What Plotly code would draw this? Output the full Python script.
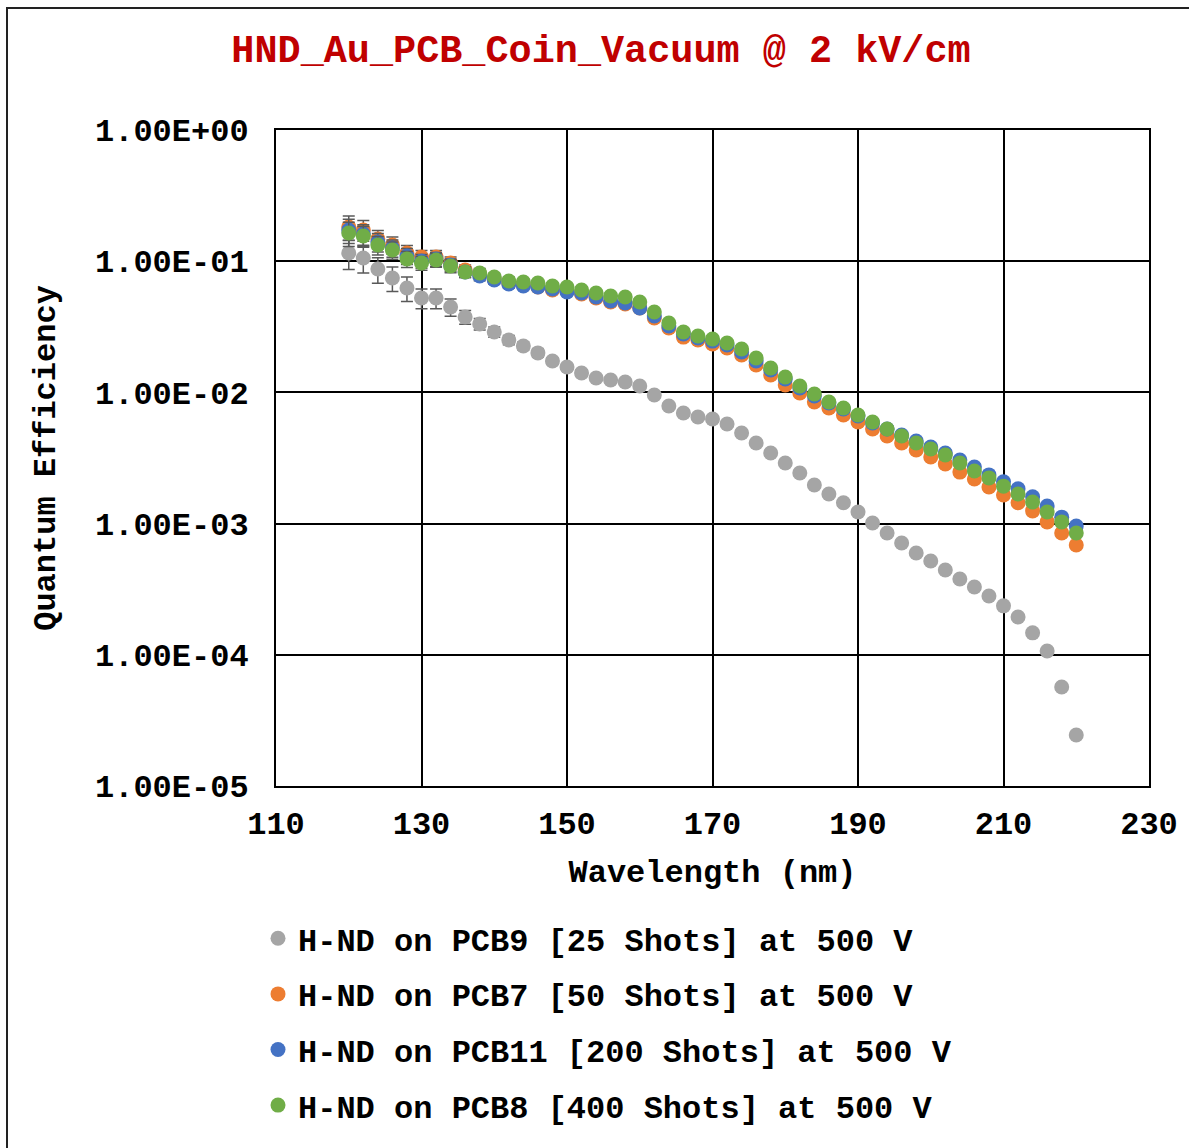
import plotly.graph_objects as go

wavelength = [120, 122, 124, 126, 128, 130, 132, 134, 136, 138, 140, 142, 144, 146, 148, 150,
              152, 154, 156, 158, 160, 162, 164, 166, 168, 170, 172, 174, 176, 178, 180, 182,
              184, 186, 188, 190, 192, 194, 196, 198, 200, 202, 204, 206, 208, 210, 212, 214,
              216, 218, 220]

qe_pcb9 = [0.1155, 0.1057, 0.0872, 0.0745, 0.0625, 0.0524, 0.0524, 0.0448, 0.0376, 0.0332,
           0.0289, 0.0251, 0.0226, 0.0200, 0.01735, 0.0156, 0.01406, 0.01288, 0.01243, 0.0120,
           0.01119, 0.00955, 0.00787, 0.00697, 0.00649, 0.00627, 0.00574, 0.0049, 0.00411,
           0.00345, 0.0029, 0.00243, 0.00197, 0.00168, 0.00144, 0.001226, 0.00101, 0.000848,
           0.000711, 0.000597, 0.000519, 0.000443, 0.000378, 0.000329, 0.000281, 0.000236,
           0.000194, 0.000147, 0.000107, 5.68e-5, 2.45e-5]

qe_pcb7 = [0.1823, 0.1729, 0.1476, 0.1329, 0.1155, 0.1076, 0.1076, 0.0969, 0.0857, 0.0799,
           0.0731, 0.0682, 0.0658, 0.0636, 0.0603, 0.0593, 0.0562, 0.0524, 0.0489, 0.0472,
           0.0440, 0.0369, 0.0310, 0.0264, 0.0251, 0.0234, 0.0218, 0.0193, 0.0162, 0.01357,
           0.01138, 0.00989, 0.00845, 0.0076, 0.00672, 0.00595, 0.00526, 0.00465, 0.00411,
           0.00364, 0.00322, 0.00285, 0.00247, 0.00219, 0.0019, 0.00165, 0.00144, 0.00125,
           0.00103, 0.000848, 0.000687]

qe_pcb11 = [0.1729, 0.161, 0.140, 0.126, 0.1095, 0.1003, 0.1039, 0.0936, 0.0827, 0.0771,
            0.0719, 0.0670, 0.0647, 0.0636, 0.0614, 0.0582, 0.0572, 0.0533, 0.0497, 0.0480,
            0.0440, 0.0382, 0.0321, 0.0279, 0.0260, 0.0246, 0.0230, 0.0203, 0.01735, 0.01482,
            0.01265, 0.0108, 0.00939, 0.0083, 0.00747, 0.00661, 0.00585, 0.00526, 0.00473,
            0.00426, 0.00384, 0.00345, 0.00305, 0.0027, 0.00235, 0.00208, 0.00184, 0.0016,
            0.00136, 0.00112, 0.00096]

qe_pcb8 = [0.164, 0.1556, 0.1329, 0.1217, 0.1039, 0.0969, 0.1021, 0.0919, 0.0827, 0.0813,
           0.0758, 0.0707, 0.0694, 0.0682, 0.0647, 0.0636, 0.0603, 0.0572, 0.0543, 0.0533,
           0.0489, 0.0410, 0.0338, 0.0289, 0.0269, 0.0255, 0.0238, 0.0214, 0.0183, 0.01535,
           0.0131, 0.01119, 0.00972, 0.00845, 0.0076, 0.00672, 0.00595, 0.00526, 0.00465,
           0.00411, 0.0037, 0.00333, 0.0029, 0.00252, 0.00223, 0.00193, 0.00168, 0.00146,
           0.001226, 0.00103, 0.000848]

# relative uncertainties
rel_err_pcb9 = [0.25, 0.23, 0.22, 0.21, 0.21, 0.17, 0.17, 0.15, 0.12, 0.10, 0.09, 0.08, 0.07,
                0.07, 0.06, 0.06, 0.06, 0.05, 0.05, 0.05, 0.05, 0.05, 0.05, 0.05, 0.05, 0.05,
                0.05, 0.05, 0.05, 0.05, 0.05, 0.05, 0.05, 0.05, 0.05, 0.05, 0.05, 0.05, 0.05,
                0.05, 0.05, 0.05, 0.05, 0.05, 0.05, 0.05, 0.05, 0.05, 0.05, 0.05, 0.05]
rel_err_pcb = [0.21, 0.18, 0.16, 0.15, 0.14, 0.12, 0.12, 0.11, 0.09, 0.08, 0.07, 0.07, 0.06,
               0.06, 0.06, 0.06, 0.06, 0.06, 0.06, 0.06, 0.06, 0.06, 0.06, 0.06, 0.06, 0.06,
               0.06, 0.06, 0.06, 0.06, 0.06, 0.06, 0.06, 0.06, 0.06, 0.06, 0.06, 0.06, 0.06,
               0.06, 0.06, 0.06, 0.06, 0.06, 0.06, 0.06, 0.06, 0.06, 0.06, 0.06, 0.06]

series_names = ["H-ND on PCB9 [25 Shots] at 500 V",
                "H-ND on PCB7 [50 Shots] at 500 V",
                "H-ND on PCB11 [200 Shots] at 500 V",
                "H-ND on PCB8 [400 Shots] at 500 V"]
series_colors = ["#A5A5A5", "#ED7D31", "#4472C4", "#70AD47"]
series_values = [qe_pcb9, qe_pcb7, qe_pcb11, qe_pcb8]
series_rel_err = [rel_err_pcb9, rel_err_pcb, rel_err_pcb, rel_err_pcb]

y_tickvals = [1, 0.1, 0.01, 0.001, 0.0001, 0.00001]
y_ticktext = ["1.00E+00", "1.00E-01", "1.00E-02", "1.00E-03", "1.00E-04", "1.00E-05"]
x_tickvals = [110, 130, 150, 170, 190, 210, 230]

FONT = "Liberation Mono, Courier New, monospace"

fig = go.Figure()
for name, col, vals, rel in zip(series_names, series_colors, series_values, series_rel_err):
    err = [v * r for v, r in zip(vals, rel)]
    fig.add_trace(go.Scatter(
        x=wavelength, y=vals, mode="markers", name=name, legendgroup=name,
        marker=dict(color=col, size=15, line=dict(width=0)),
        error_y=dict(type="data", array=err, visible=True, color="#595959",
                     thickness=1.5, width=6),
    ))

W, H = 1189, 1148
L, R, T, B = 276, 40, 130, 362
pw, ph = W - L - R, H - T - B

def px_x(px):
    return (px - L) / pw

def px_y(py):
    return (H - B - py) / ph

fig.add_shape(type="rect", xref="paper", yref="paper",
              x0=px_x(7), x1=px_x(1210), y0=px_y(1170), y1=px_y(8),
              line=dict(color="#222222", width=2), fillcolor="rgba(0,0,0,0)", layer="below")

fig.update_layout(
    width=W, height=H,
    margin=dict(l=L, r=R, t=T, b=B, autoexpand=False),
    paper_bgcolor="white", plot_bgcolor="white",
    font=dict(family=FONT, color="black", size=32, weight="bold"),
    title=dict(text="HND_Au_PCB_Coin_Vacuum @ 2 kV/cm",
               font=dict(family=FONT, size=38.5, color="#C00000", weight="bold"),
               x=601 / W, xref="container", xanchor="center",
               y=1 - 49 / H, yref="container", yanchor="middle"),
    xaxis=dict(range=[110, 230], tickvals=x_tickvals, showgrid=True, gridcolor="black",
               gridwidth=2, showline=True, linecolor="black", linewidth=2, mirror=True,
               zeroline=False, ticks="", ticklabelstandoff=8,
               tickfont=dict(family=FONT, size=32, weight="bold"),
               title=dict(text="Wavelength (nm)", standoff=16,
                          font=dict(family=FONT, size=32, weight="bold"))),
    yaxis=dict(type="log", range=[-5, 0], tickvals=y_tickvals, ticktext=y_ticktext,
               showgrid=True, gridcolor="black", gridwidth=2, showline=True,
               linecolor="black", linewidth=2, mirror=True, zeroline=False, ticks="",
               ticklabelstandoff=19,
               tickfont=dict(family=FONT, size=32, weight="bold"),
               title=dict(text="Quantum Efficiency", standoff=30,
                          font=dict(family=FONT, size=32, weight="bold"))),
    legend=dict(x=px_x(258), xanchor="left", y=px_y(911), yanchor="top",
                font=dict(family=FONT, size=32, weight="bold"),
                tracegroupgap=11, itemwidth=30, bgcolor="rgba(0,0,0,0)"),
    showlegend=True,
)

fig.write_html("out.html")
